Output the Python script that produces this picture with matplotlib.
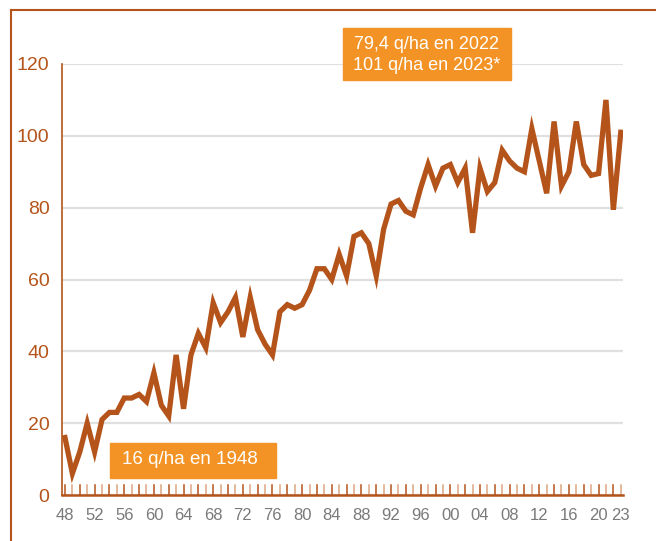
import numpy as np
import matplotlib
matplotlib.use("Agg")
import matplotlib.pyplot as plt
from matplotlib.lines import Line2D
from matplotlib.patches import Rectangle

plt.rcParams['font.family'] = ['Liberation Sans', 'DejaVu Sans']

# yields in q/ha, 1948..2023
years = list(range(1948, 2024))
yields = [16, 6, 12, 20, 12, 21, 23, 23, 27, 27,
          28, 26, 34, 25, 22, 39, 24, 39, 45, 41,
          53.5, 48, 51, 55, 44, 55, 46, 42, 39, 51,
          53, 52, 53, 57, 63, 63, 60, 67, 61, 72,
          73, 70, 61, 74, 81, 82, 79, 78, 85.5, 92,
          86, 91, 92, 87, 91, 73, 91, 84.5, 87, 96,
          93, 91, 90, 102, 93, 84, 104, 86, 90, 104,
          92, 89, 89.5, 110, 79.4, 101]
label_years = list(range(1948, 2021, 4)) + [2023]
tick_labels = [f"{y % 100:02d}" for y in label_years]
yticks = [0, 20, 40, 60, 80, 100, 120]
note_top = "79,4 q/ha en 2022\n101 q/ha en 2023*"
note_bottom = "16 q/ha en 1948"

BROWN = "#B5541A"
ORANGE = "#F39325"
GREY = "#7A7A7A"
LIGHT = "#DDA582"

fig = plt.figure(figsize=(6.56, 5.41), dpi=100)
W, H = 656, 541

def fx(px):
    return px / W

def fy(py):
    return 1 - py / H

ax = fig.add_axes([fx(62), fy(495), fx(623) - fx(62), fy(64) - fy(495)])

ax.plot(years, yields, color=BROWN, lw=3.8, solid_joinstyle="miter", zorder=3)

ax.set_xlim(1947.6, 2023.3)
ax.set_ylim(0, 120)
ax.set_yticks(yticks)
ax.set_yticklabels([str(v) for v in yticks], color=BROWN, fontsize=14)
ax.tick_params(axis="y", length=0, pad=9)
ax.yaxis.grid(True, color="#E0E0E0", lw=1.6, zorder=0)
ax.set_axisbelow(True)

# labelled ticks + every-year ticks (even years darker)
ax.set_xticks(label_years)
ax.set_xticklabels(tick_labels, color=GREY, fontsize=12)
ax.tick_params(axis="x", which="major", length=0, pad=9)
for yr in years:
    c = BROWN if yr % 2 == 0 else LIGHT
    ax.plot([yr, yr], [0, 2.7], color=c, lw=1.1, clip_on=False, zorder=2)

for s in ["top", "right"]:
    ax.spines[s].set_visible(False)
ax.spines["left"].set_color(BROWN)
ax.spines["left"].set_linewidth(1.2)
ax.spines["bottom"].set_color(BROWN)
ax.spines["bottom"].set_linewidth(1.8)

# outer frame (left and top)
fig.add_artist(Line2D([fx(10.5), fx(10.5)], [fy(10), 0], color=BROWN, lw=1.5))
fig.add_artist(Line2D([fx(10.5), 1], [fy(10), fy(10)], color=BROWN, lw=1.5))

# annotation boxes
fig.add_artist(Rectangle((fx(343), fy(80)), fx(511) - fx(343), fy(28) - fy(80),
                         transform=fig.transFigure, color=ORANGE, zorder=5))
fig.text(fx(427), fy(55), note_top, color="white", fontsize=13,
         ha="center", va="center", multialignment="center", zorder=6,
         linespacing=1.3)

fig.add_artist(Rectangle((fx(110), fy(478)), fx(276) - fx(110), fy(443) - fy(478),
                         transform=fig.transFigure, color=ORANGE, zorder=5))
fig.text(fx(190), fy(460), note_bottom, color="white", fontsize=13.5,
         ha="center", va="center", zorder=6)

fig.savefig("out.png", dpi=100)
